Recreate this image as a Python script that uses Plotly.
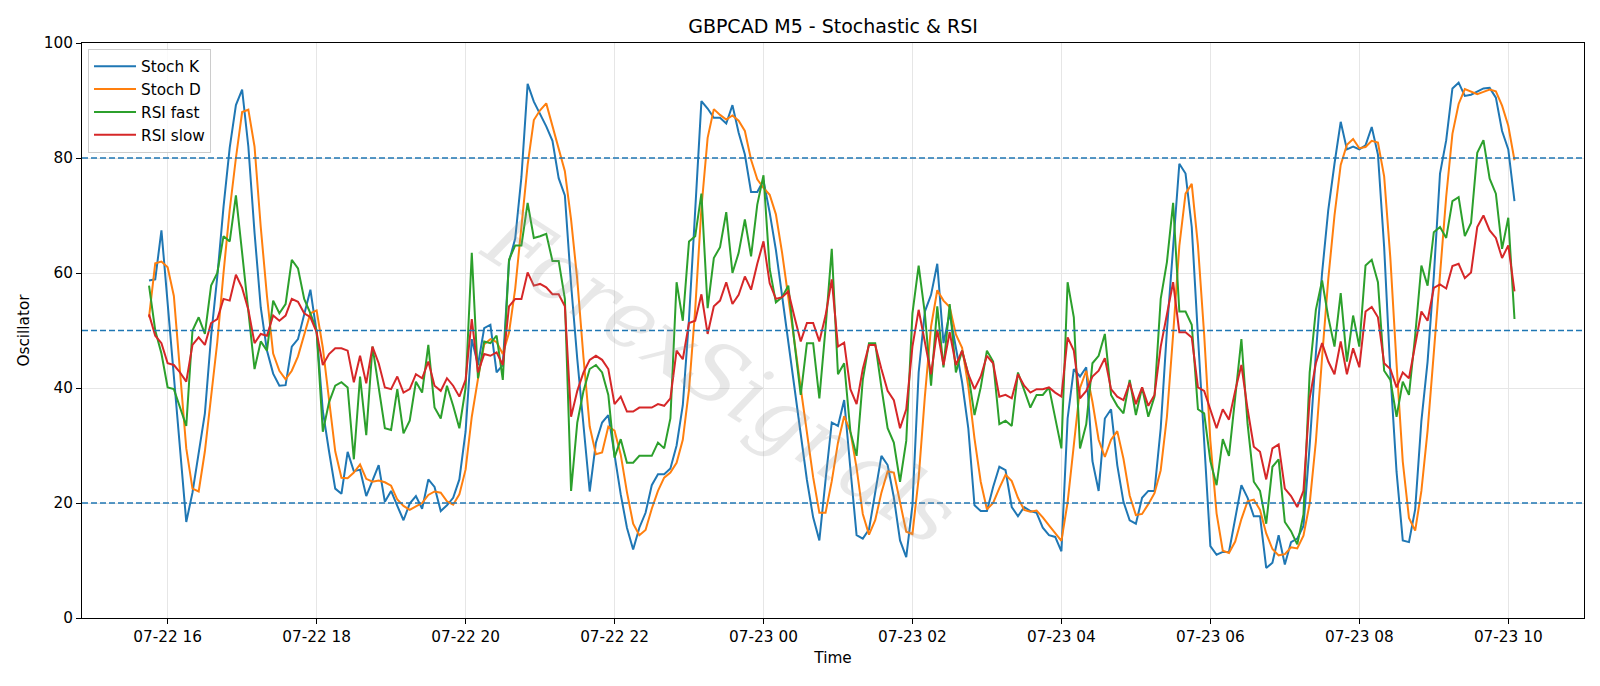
import pandas as pd
import plotly.graph_objects as go

# ---------------- data (5-minute bars, 15:45 -> 10:05) ----------------
start_time = "2025-07-22 15:45"
n_bars = 221
times = pd.date_range(start=start_time, periods=n_bars, freq="5min")

stoch_k = [
    58.7, 58.9, 67.4,
    55, 42, 29, 16.7, 21.8, 28.6, 35.6, 49, 59.4, 71.5, 81.8, 89.2,
    91.9, 82, 67, 54, 46.5, 42.5, 40.4, 40.5, 47.2, 48.5, 53, 57.1,
    49.7, 36, 29, 22.5, 21.6, 28.9, 25.5, 25.8, 21.2, 24, 26.6, 20.2,
    22.1, 19.5, 17, 19.9, 21.2, 19, 24.1, 22.8, 18.6, 19.6, 20.9, 24.1,
    32.4, 48.5, 44, 50.4, 51, 42.7, 44, 62, 66, 76.7, 92.9, 89.8,
    87.6, 85.5, 83, 76.5, 73.5, 58, 45, 33, 22, 30.5, 34, 35.3,
    28.5, 21.5, 15.7, 11.9, 15.7, 18.3, 23.1, 25, 25, 26, 30, 37,
    52, 72, 89.9, 88.6, 87, 87, 86, 89.2, 84.4, 80.6, 74.1, 74.1,
    76.1, 70.5, 64, 56, 48, 40, 32, 24, 17.5, 13.5, 24, 34,
    33.4, 37.9, 26, 14.4, 13.8, 15.4, 21.8, 28.2, 26.6, 21, 13.5, 10.6,
    19.6, 42.7, 53.3, 56.2, 61.6, 47.8, 53, 47, 41, 33, 19.6, 18.6,
    18.6, 22.8, 26.3, 25.7, 19.3, 17.7, 19.3, 18.6, 18.3, 15.7, 14.4, 14.1,
    11.6, 34.7, 43.3, 42, 43.6, 27.3, 22.1, 34.7, 36.3, 26.6, 20.2, 17,
    16.4, 20.9, 22.1, 22.1, 33, 50, 65, 79, 77.3, 68, 49, 31,
    12.5, 11, 11.5, 11.5, 17, 23.1, 20.9, 17.7, 17.7, 8.7, 9.6, 14.4,
    9.3, 13.2, 13.8, 16, 30, 46, 60, 71, 79, 86.3, 81.5, 82,
    81.5, 82.2, 85.4, 80.6, 64.5, 42.7, 25.4, 13.5, 13.2, 18.9, 34.3, 44.6,
    59.4, 77.3, 83.1, 92.1, 93.1, 90.8, 91, 91.5, 92.1, 92.2, 90.5, 84.7,
    81.5, 72.5,
]

stoch_d = [
    52.3, 61.7, 62,
    61, 56, 43, 29.5, 22.5, 22, 29, 38, 48, 60, 71, 80,
    88, 88.4, 82, 68, 56, 46, 43, 41.5, 43, 45.5, 49.5, 53,
    53.5, 47, 38, 29, 24.4, 24.3, 25.3, 26.7, 24.2, 23.7, 23.9, 23.6,
    23, 20.6, 19.5, 18.8, 19.4, 20, 21.4, 22, 21.8, 20.3, 19.7, 21.5,
    25.8, 35, 41.6, 47.6, 48.5, 48, 45.9, 49.6, 57.3, 68.2, 78.8, 86.6,
    88.3, 89.5, 85.7, 81.8, 77.7, 69.3, 58.8, 45.3, 33.3, 28.5, 28.8, 33.3,
    32.6, 28.4, 21.9, 16.4, 14.4, 15.3, 19, 22.1, 24.4, 25.3, 27, 31,
    39.7, 53.7, 71.3, 83.5, 88.5, 87.5, 86.7, 87.4, 86.5, 84.7, 79.7, 76.3,
    74.8, 73.6, 70.2, 63.5, 56, 48, 40, 32, 24.5, 18.3, 18.3, 23.8,
    30.5, 35.1, 32.4, 26.1, 18.1, 14.5, 17, 21.8, 25.5, 25.3, 20.4, 15,
    14.6, 24.3, 38.5, 50.7, 57, 55.2, 54.1, 49.3, 47, 40.3, 31.2, 23.7,
    18.9, 20, 22.6, 24.9, 23.8, 20.9, 18.8, 18.5, 18.7, 17.5, 16.1, 14.7,
    13.4, 20.1, 29.9, 40, 43, 37.6, 31, 28, 31, 32.5, 27.7, 21.3,
    17.9, 18.1, 19.8, 21.7, 25.7, 35, 49.3, 64.7, 73.8, 75.5, 64.8, 49.3,
    30.8, 18.2, 11.7, 11.3, 13.3, 17.2, 20.3, 20.6, 18.8, 14.7, 12, 10.9,
    11.1, 12.3, 12.1, 14.3, 19.9, 30.7, 45.3, 59, 70, 78.8, 82.3, 83.3,
    81.7, 81.9, 83, 82.7, 76.8, 62.6, 44.2, 27.2, 17.4, 15.2, 22.1, 32.6,
    46.1, 60.4, 73.3, 84.2, 89.4, 92, 91.6, 91.1, 91.5, 91.9, 91.6, 89.1,
    85.6, 79.6,
]

rsi_fast = [
    57.8, 50, 46,
    40.1, 39.8, 36.5, 33.4, 50, 52.3, 49.4, 57.8, 60, 66.4, 65.5, 73.5,
    63.5, 53.5, 43.3, 48.1, 46.5, 55.2, 53, 54.6, 62.3, 60.8, 55.5, 53,
    50, 32.4, 37.5, 40.4, 41, 40.1, 27.6, 42, 31.8, 47.2, 40.1, 33,
    32.7, 39.8, 32.1, 34.3, 41.1, 39.2, 47.5, 36.6, 34.7, 40.4, 36.9, 33,
    40, 63.5, 41.7, 48.1, 47.8, 49.1, 41.4, 62.3, 64.8, 64.8, 72.2, 66.1,
    66.4, 66.8, 62.1, 62.1, 55.5, 22.1, 34, 39.5, 43.3, 44, 42.7, 38.8,
    27.9, 31.1, 27, 27, 28.2, 28.2, 28.2, 30.5, 29.5, 34.7, 58.4, 51.7,
    65.5, 66.4, 73.8, 53.9, 62.6, 64.5, 70.6, 60, 63.5, 69.3, 62.9, 71.9,
    77, 60.7, 54.9, 55.8, 57.8, 47.8, 38.8, 47.8, 47.8, 38.2, 50.4, 64.2,
    42.4, 44.3, 32.4, 28.2, 41.4, 47.8, 47.8, 40.1, 33, 30.5, 23.7, 30.8,
    53, 61.3, 53, 40.4, 54.2, 43.6, 54.6, 42.7, 46.5, 42.4, 35.3, 40.1,
    46.5, 44.6, 33.7, 34.3, 33.4, 42.7, 39.5, 36.6, 38.8, 38.8, 40.1, 35,
    29.5, 58.4, 52.3, 29.5, 33.7, 44.3, 45.6, 49.4, 38.8, 36.9, 35.6, 41.4,
    35.3, 40.1, 35, 38.5, 55.5, 61.9, 72.2, 53.3, 53.3, 51, 36.3, 35.6,
    27.3, 23.1, 31.1, 28.2, 38.8, 48.5, 33.7, 23.7, 22.1, 16.4, 26.3, 27.6,
    16.7, 15.1, 12.8, 18, 42.7, 53.6, 58.7, 52.3, 47.2, 56.5, 44.6, 52.6,
    47.2, 61.3, 62.3, 58.4, 43, 41.4, 35, 41.1, 38.8, 49.1, 61.3, 57.8,
    67.1, 68, 66.1, 72.5, 73.2, 66.4, 68.7, 80.9, 83.1, 76.4, 73.8, 64.2,
    69.6, 52,
]

rsi_slow = [
    52.8, 49.1, 47.8,
    44.3, 44, 42.7, 41.1, 47.5, 48.8, 47.5, 51.3, 52, 55.5, 55.2, 59.7,
    57.4, 53.6, 47.8, 49.4, 49.1, 52.6, 51.7, 52.6, 55.5, 55, 53, 52.3,
    49.7, 44, 45.9, 46.9, 46.9, 46.5, 41, 45.6, 40.8, 47.2, 44.3, 40.1,
    39.8, 42, 39.2, 39.8, 42.4, 41.7, 44.6, 40.4, 39.5, 41.7, 40.4, 38.5,
    41.4, 52, 42.7, 45.9, 45.6, 46.2, 44, 54.2, 55.5, 55.5, 60.1, 57.8,
    58.1, 57.5, 56.3, 56.3, 54.2, 35, 39.5, 42.7, 44.9, 45.6, 44.9, 43.3,
    37.2, 38.5, 35.9, 35.9, 36.6, 36.6, 36.6, 37.2, 36.9, 38.2, 46.5, 45,
    51.3, 51.7, 56.3, 49.4, 54.2, 55.2, 58.4, 54.6, 56.2, 59.4, 57.1, 61.6,
    65.5, 58.2, 55.5, 55.8, 56.8, 52.3, 48.1, 51.3, 51.3, 48.1, 52.6, 58.9,
    47.2, 47.9, 39.8, 37.2, 43.3, 47.5, 47.5, 43.3, 39.5, 37.9, 33, 36.3,
    47.2, 53.6, 47.8, 42.4, 50.1, 44, 49.7, 44, 46.5, 42.4, 39.8, 42,
    45.6, 44.3, 38.5, 38.8, 38.2, 42.4, 40.4, 39.2, 39.8, 39.8, 40.1, 39.2,
    38.5, 48.8, 46.5, 38.2, 39.5, 42, 43, 45.2, 39.8, 38.5, 37.9, 40.9,
    37.2, 40.1, 36.9, 38.8, 47.2, 52.6, 58.4, 49.7, 49.7, 48.8, 40.1, 39.5,
    36.3, 33, 36.3, 34.5, 39.5, 44, 36.3, 29.8, 28.9, 24.1, 29.5, 30.2,
    22.5, 21.2, 19.3, 22.1, 38.2, 44.3, 47.8, 44.6, 42.4, 48.1, 42.4, 46.9,
    43.6, 53.3, 54.1, 52.3, 44.3, 43.3, 40.1, 42.7, 41.7, 47.2, 53.3, 51.7,
    57.4, 58, 57.3, 61.2, 61.6, 59.1, 60.1, 68, 70, 67.4, 66.1, 62.6,
    64.8, 56.8,
]

series_names = ["Stoch K", "Stoch D", "RSI fast", "RSI slow"]
series_colors = ["#1f77b4", "#ff7f0e", "#2ca02c", "#d62728"]
level_values = [80, 50, 20]
y_ticks = [0, 20, 40, 60, 80, 100]

# ---------------- figure ----------------
fig = go.Figure()
for name, vals, col in zip(series_names, [stoch_k, stoch_d, rsi_fast, rsi_slow], series_colors):
    fig.add_trace(go.Scatter(x=times, y=vals, mode="lines", name=name,
                             line=dict(color=col, width=2)))

for lv in level_values:
    fig.add_shape(type="line", xref="paper", x0=0, x1=1, yref="y", y0=lv, y1=lv,
                  line=dict(color="#1f77b4", width=1.3, dash="6px,3px"), layer="above")

fig.add_annotation(text="ForexSignals", xref="paper", yref="paper", x=0.425, y=0.42,
                   showarrow=False, textangle=33,
                   font=dict(family="DejaVu Serif", size=82, color="rgba(150,150,150,0.22)",
                             style="italic"))

W, H = 1600, 686
TICK_FS = 15.3
fig.update_layout(
    width=W, height=H,
    margin=dict(l=82, r=16, t=43, b=68),
    paper_bgcolor="white", plot_bgcolor="white",
    font=dict(family="DejaVu Sans", size=TICK_FS, color="black"),
    title=dict(text="GBPCAD M5 - Stochastic & RSI", x=0.5, xref="paper", xanchor="center",
               y=1 - 26.5 / H, yref="container", yanchor="middle",
               font=dict(size=19, color="black")),
    legend=dict(x=0.004, y=0.99, xanchor="left", yanchor="top",
                bgcolor="rgba(255,255,255,0.8)", bordercolor="#cccccc", borderwidth=1,
                font=dict(size=TICK_FS), itemwidth=42),
    showlegend=True,
)
fig.update_xaxes(
    range=["2025-07-22 14:51", "2025-07-23 11:01"],
    tickformat="%m-%d %H", dtick=7200000, tick0="2025-07-22 00:00",
    tickfont=dict(size=TICK_FS),
    showgrid=True, gridcolor="#e6e6e6", gridwidth=1,
    ticks="outside", ticklen=5, tickwidth=1, tickcolor="black",
    showline=True, linecolor="black", linewidth=1, mirror=True, zeroline=False,
    title=dict(text="Time", standoff=6, font=dict(size=TICK_FS)),
)
fig.update_yaxes(
    range=[0, 100], tickvals=y_ticks,
    tickfont=dict(size=TICK_FS),
    showgrid=True, gridcolor="#e6e6e6", gridwidth=1,
    ticks="outside", ticklen=5, tickwidth=1, tickcolor="black",
    showline=True, linecolor="black", linewidth=1, mirror=True, zeroline=False,
    title=dict(text="Oscillator", standoff=10, font=dict(size=TICK_FS)),
)

fig.write_html("out.html", config={"displayModeBar": False})
